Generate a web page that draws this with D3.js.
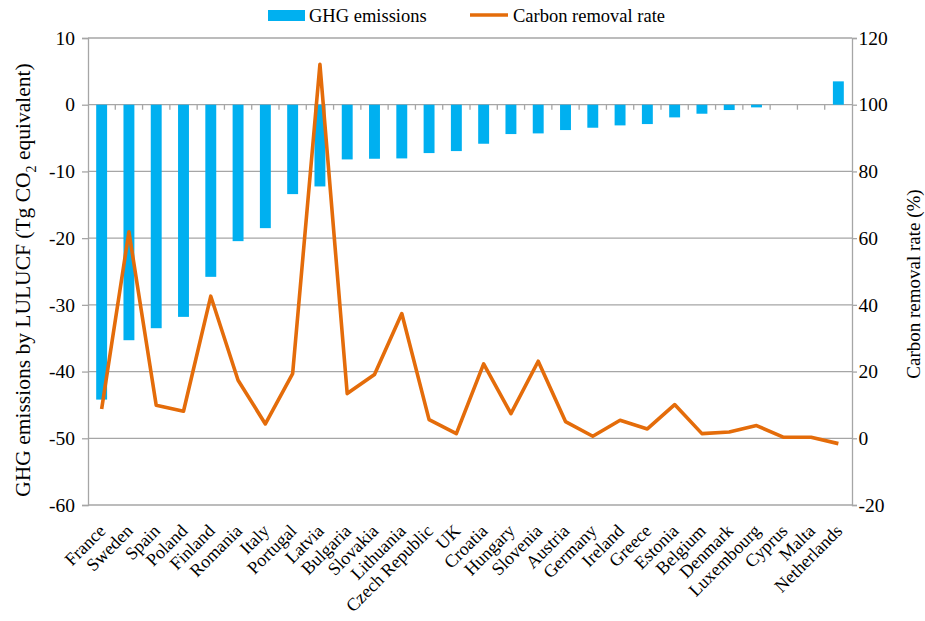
<!DOCTYPE html>
<html>
<head>
<meta charset="utf-8">
<script src="https://cdn.jsdelivr.net/npm/d3@7"></script>
<style>
  body { margin: 0; background: #fff; }
  svg text { font-family: "Liberation Serif", "DejaVu Serif", serif !important; fill: #000; }
</style>
</head>
<body>
<div id="chart"></div>
<script>
var countries = ["France", "Sweden", "Spain", "Poland", "Finland", "Romania", "Italy", "Portugal",
  "Latvia", "Bulgaria", "Slovakia", "Lithuania", "Czech Republic", "UK", "Croatia", "Hungary",
  "Slovenia", "Austria", "Germany", "Ireland", "Greece", "Estonia", "Belgium", "Denmark",
  "Luxembourg", "Cyprus", "Malta", "Netherlands"];

// GHG emissions by LULUCF (Tg CO2 eq)
var ghgEmissions = [-44.2, -35.3, -33.5, -31.8, -25.8, -20.45, -18.5, -13.4,
  -12.25, -8.2, -8.1, -8.05, -7.25, -6.95, -5.85, -4.4,
  -4.3, -3.8, -3.45, -3.1, -2.9, -1.9, -1.35, -0.8,
  -0.4, 0, 0, 3.5];

// carbon removal rate (%)
var removalRate = [8.8, 61.9, 9.9, 8.1, 42.6, 17.4, 4.3, 19.4,
  112.1, 13.4, 19.1, 37.4, 5.6, 1.4, 22.3, 7.4,
  23.1, 5.0, 0.6, 5.4, 2.8, 10.1, 1.4, 1.9,
  3.8, 0.3, 0.3, -1.6];

var leftTicks = [10, 0, -10, -20, -30, -40, -50, -60];
var rightTicks = [120, 100, 80, 60, 40, 20, 0, -20];

var width = 925, height = 621;
var margin = { top: 38, right: 73, bottom: 116, left: 88 };
var chartWidth = width - margin.left - margin.right;
var chartHeight = height - margin.top - margin.bottom;

var serif = "'Liberation Serif', 'DejaVu Serif', serif";
var barColor = "#00b0f0", lineColor = "#e46c0a", gridColor = "#a6a6a6";

var svg = d3.select("#chart").append("svg")
  .attr("width", width)
  .attr("height", height)
  .style("font-family", serif);

var chart = svg.append("g")
  .attr("transform", `translate(${margin.left}, ${margin.top})`);

var x = d3.scaleBand().domain(countries).range([0, chartWidth]).paddingInner(0.6).paddingOuter(0.3);
var xStep = d3.scaleBand().domain(countries).range([0, chartWidth]);
var yLeft = d3.scaleLinear().domain([-60, 10]).range([chartHeight, 0]);
var yRight = d3.scaleLinear().domain([-20, 120]).range([chartHeight, 0]);

// plain hyphen for negatives, like the original
var plain = d => String(d);

// gridlines
chart.append("g")
  .selectAll("line")
  .data(leftTicks)
  .join("line")
  .attr("x1", 0)
  .attr("x2", chartWidth)
  .attr("y1", d => yLeft(d))
  .attr("y2", d => yLeft(d))
  .attr("stroke", gridColor)
  .attr("stroke-width", 1.3);

// left axis
var leftAxis = chart.append("g")
  .call(d3.axisLeft(yLeft).tickValues(leftTicks).tickFormat(plain).tickSize(6).tickPadding(7))
  .attr("font-family", serif);
leftAxis.select(".domain").attr("stroke", gridColor).attr("stroke-width", 1.3);
leftAxis.selectAll(".tick line").attr("stroke", gridColor).attr("stroke-width", 1.3);
leftAxis.selectAll("text").attr("font-size", 19.5);

// right axis
var rightAxis = chart.append("g")
  .attr("transform", `translate(${chartWidth}, 0)`)
  .call(d3.axisRight(yRight).tickValues(rightTicks).tickFormat(plain).tickSize(5).tickPadding(1.5))
  .attr("font-family", serif);
rightAxis.select(".domain").attr("stroke", gridColor).attr("stroke-width", 1.3);
rightAxis.selectAll(".tick line").attr("stroke", gridColor).attr("stroke-width", 1.3);
rightAxis.selectAll("text").attr("font-size", 19.5);

// category ticks on the zero line
chart.append("g")
  .selectAll("line")
  .data(countries.slice(1))
  .join("line")
  .attr("x1", d => xStep(d))
  .attr("x2", d => xStep(d))
  .attr("y1", yLeft(0))
  .attr("y2", yLeft(0) + 5)
  .attr("stroke", gridColor)
  .attr("stroke-width", 1.3);

// bars
chart.append("g")
  .selectAll("rect")
  .data(countries)
  .join("rect")
  .attr("x", d => x(d))
  .attr("width", x.bandwidth())
  .attr("y", (d, i) => yLeft(Math.max(0, ghgEmissions[i])))
  .attr("height", (d, i) => Math.abs(yLeft(ghgEmissions[i]) - yLeft(0)))
  .attr("fill", barColor);

// line
var line = d3.line()
  .x((d, i) => xStep(countries[i]) + xStep.bandwidth() / 2)
  .y(d => yRight(d));

chart.append("path")
  .datum(removalRate)
  .attr("d", line)
  .attr("fill", "none")
  .attr("stroke", lineColor)
  .attr("stroke-width", 3.6)
  .attr("stroke-linejoin", "round");

// category labels
chart.append("g")
  .selectAll("text")
  .data(countries)
  .join("text")
  .attr("transform", d => `translate(${xStep(d) + xStep.bandwidth() / 2 + 5}, ${chartHeight + 27}) rotate(-45)`)
  .attr("text-anchor", "end")
  .attr("font-size", 18)
  .text(d => d);

// axis titles
var leftTitle = svg.append("text")
  .attr("transform", "translate(30, 280) rotate(-90)")
  .attr("text-anchor", "middle")
  .attr("font-size", 21.5);
leftTitle.append("tspan").text("GHG emissions by LULUCF (Tg CO");
leftTitle.append("tspan").attr("dy", 6).attr("font-size", 14).text("2");
leftTitle.append("tspan").attr("dy", -6).text(" equivalent)");

svg.append("text")
  .attr("transform", "translate(920, 284) rotate(-90)")
  .attr("text-anchor", "middle")
  .attr("font-size", 19)
  .text("Carbon removal rate (%)");

// legend
var legend = svg.append("g");
legend.append("rect")
  .attr("x", 268).attr("y", 10)
  .attr("width", 37).attr("height", 11)
  .attr("fill", barColor);
legend.append("text")
  .attr("x", 309).attr("y", 22)
  .attr("font-size", 18.5)
  .text("GHG emissions");
legend.append("line")
  .attr("x1", 470).attr("x2", 508)
  .attr("y1", 15).attr("y2", 15)
  .attr("stroke", lineColor)
  .attr("stroke-width", 3.6);
legend.append("text")
  .attr("x", 513).attr("y", 22)
  .attr("font-size", 18.5)
  .text("Carbon removal rate");
</script>
</body>
</html>
